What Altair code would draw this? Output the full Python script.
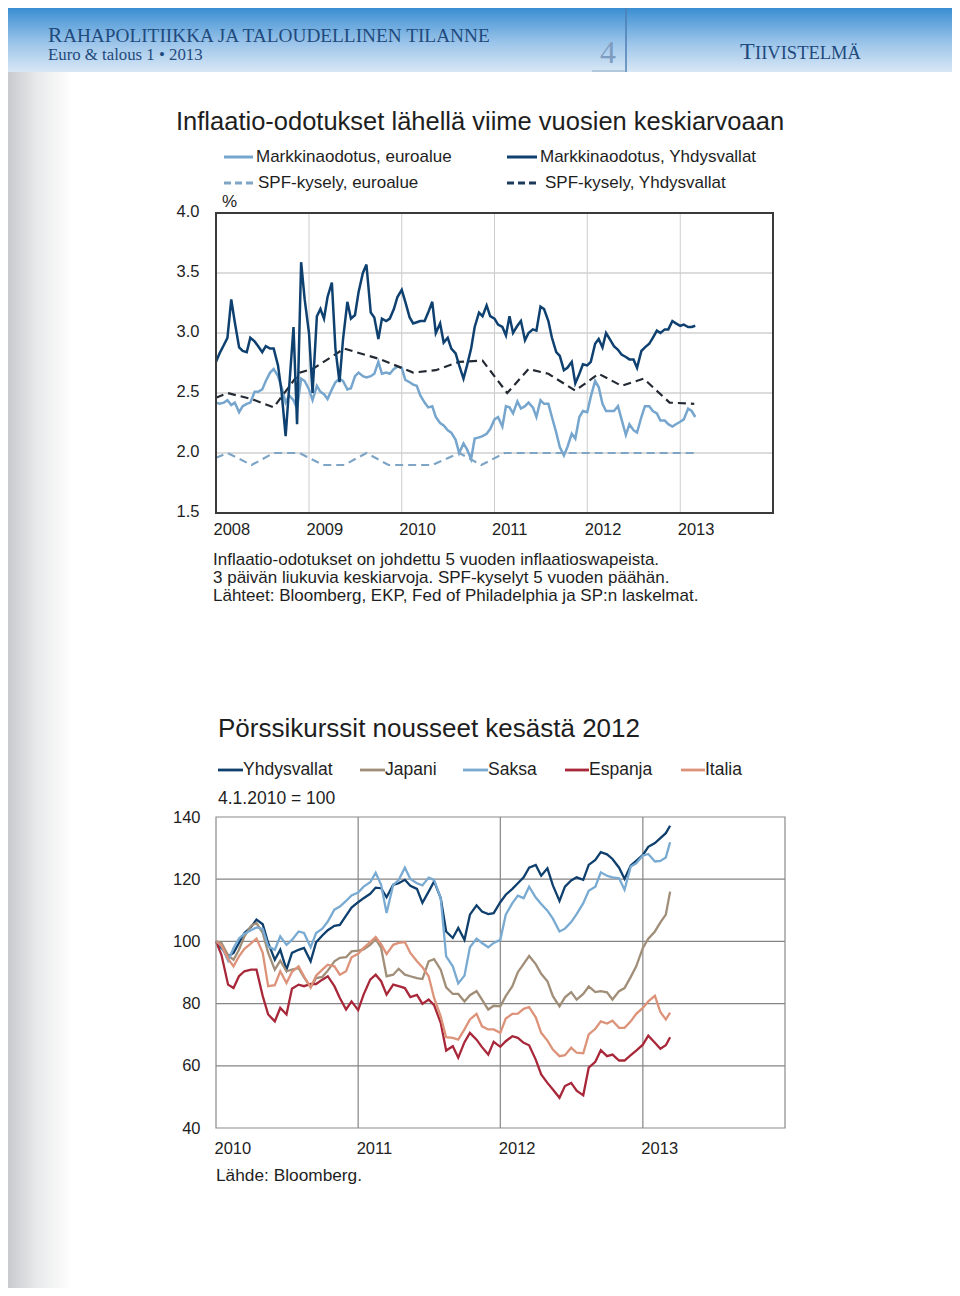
import altair as alt
import pandas as pd

FONT = "Liberation Sans"
SERIF = "Liberation Serif"
TXT = "#1e1e1e"
HEAD = "#1f4a7d"


def semimonthly(y0, m0, y1, m1):
    out = []
    y, m = y0, m0
    while (y, m) <= (y1, m1):
        out.append(f"{y}-{m:02d}-01")
        if (y, m) != (y1, m1):
            out.append(f"{y}-{m:02d}-15")
        m += 1
        if m > 12:
            m = 1
            y += 1
    return out


# ---------------- Chart 1 data: inflation expectations (%) ----------------
dates1 = semimonthly(2008, 1, 2013, 3)

market_us = [
    2.76, 2.83, 2.90, 2.96, 3.28, 3.09, 2.88, 2.85, 2.84, 2.96,
    2.93, 2.89, 2.84, 2.89, 2.87, 2.87, 2.73, 2.51, 2.14, 2.55,
    3.05, 2.24, 3.59, 3.28, 3.00, 2.50, 3.14, 3.20, 3.12, 3.30,
    3.42, 2.87, 2.59, 2.95, 3.26, 3.12, 3.15, 3.34, 3.50, 3.57,
    3.17, 3.13, 2.95, 3.12, 3.10, 3.12, 3.20, 3.30, 3.36, 3.26,
    3.13, 3.08, 3.09, 3.10, 3.10, 3.17, 3.26, 3.00, 3.08, 2.92,
    2.96, 2.87, 2.83, 2.73, 2.62, 2.73, 2.87, 3.05, 3.17, 3.14,
    3.23, 3.14, 3.12, 3.07, 3.05, 2.98, 3.14, 3.00, 3.06, 3.10,
    2.94, 3.00, 3.03, 3.02, 3.22, 3.20, 3.10, 2.96, 2.84, 2.81,
    2.69, 2.71, 2.76, 2.58, 2.66, 2.74, 2.73, 2.76, 2.91, 2.95,
    2.88, 3.00, 2.94, 2.89, 2.86, 2.82, 2.80, 2.78, 2.78, 2.71,
    2.85, 2.88, 2.91, 2.96, 3.02, 3.00, 3.03, 3.03, 3.10, 3.08,
    3.06, 3.07, 3.05, 3.05, 3.06,
]

market_euro = [
    2.42, 2.41, 2.42, 2.44, 2.40, 2.42, 2.34, 2.39, 2.41, 2.42,
    2.51, 2.51, 2.53, 2.60, 2.67, 2.70, 2.64, 2.55, 2.42, 2.48,
    2.44, 2.37, 2.62, 2.60, 2.53, 2.44, 2.56, 2.51, 2.49, 2.45,
    2.53, 2.59, 2.62, 2.60, 2.53, 2.54, 2.64, 2.67, 2.64, 2.63,
    2.64, 2.66, 2.76, 2.66, 2.67, 2.66, 2.70, 2.72, 2.71, 2.61,
    2.59, 2.57, 2.56, 2.48, 2.42, 2.38, 2.39, 2.30, 2.25, 2.23,
    2.19, 2.17, 2.11, 2.00, 2.08, 2.03, 1.95, 2.12, 2.13, 2.14,
    2.16, 2.20, 2.28, 2.30, 2.22, 2.39, 2.38, 2.33, 2.43, 2.37,
    2.39, 2.42, 2.38, 2.30, 2.44, 2.41, 2.41, 2.30, 2.17, 2.05,
    1.98, 2.05, 2.16, 2.12, 2.30, 2.35, 2.34, 2.47, 2.60, 2.55,
    2.41, 2.35, 2.35, 2.35, 2.39, 2.28, 2.15, 2.24, 2.19, 2.17,
    2.30, 2.39, 2.39, 2.35, 2.33, 2.27, 2.27, 2.24, 2.22, 2.24,
    2.26, 2.28, 2.37, 2.35, 2.30,
]

spf_us_dates = ["2008-01-01", "2008-02-15", "2008-05-20", "2008-08-15", "2008-11-25",
                "2009-01-15", "2009-05-20", "2009-10-10", "2010-02-15", "2010-05-15",
                "2010-08-15", "2010-11-15", "2011-02-20", "2011-05-15", "2011-08-01",
                "2011-11-15", "2012-02-15", "2012-05-15", "2012-08-10", "2012-11-20",
                "2013-02-25"]
spf_us = [2.46, 2.50, 2.45, 2.38, 2.67, 2.70, 2.87, 2.78, 2.67, 2.69,
          2.76, 2.77, 2.50, 2.70, 2.66, 2.52, 2.66, 2.56, 2.62, 2.42, 2.41]

spf_eu_dates = ["2008-01-01", "2008-02-15", "2008-05-20", "2008-08-15", "2008-11-25",
                "2009-02-25", "2009-05-20", "2009-08-15", "2009-11-10", "2010-05-01",
                "2010-08-15", "2010-11-10", "2011-02-10", "2013-02-25"]
spf_eu = [1.96, 2.0, 1.9, 2.0, 2.0, 1.9, 1.9, 2.0, 1.9, 1.9, 2.0, 1.9, 2.0, 2.0]

years1 = [2008, 2009, 2010, 2011, 2012, 2013]
yticks1 = [1.5, 2.0, 2.5, 3.0, 3.5, 4.0]

# ---------------- Chart 2 data: stock indices (4.1.2010 = 100) ----------------
dates2 = semimonthly(2010, 1, 2013, 3) + ["2013-03-12"]

idx_us = [
    100.0, 97.9, 95.2, 96.3, 99.5, 102.7, 104.6, 107.0, 105.5, 99.5,
    94.1, 97.3, 90.9, 96.3, 97.3, 97.9, 93.6, 99.7, 101.9, 103.6,
    105.0, 105.3, 108.3, 110.9, 112.6, 113.9, 115.3, 117.3, 117.1, 114.2,
    118.2, 118.7, 119.8, 117.9, 116.9, 112.4, 116.0, 119.3, 113.9, 103.2,
    101.1, 104.3, 100.5, 108.6, 111.6, 109.6, 108.8, 109.1, 112.6, 115.0,
    116.9, 118.7, 120.6, 123.7, 124.6, 121.1, 123.5, 118.0, 113.0, 117.6,
    119.6, 120.6, 119.8, 124.6, 126.2, 128.7, 128.0, 126.5, 123.7, 120.1,
    124.4, 125.9, 127.8, 130.4, 131.6, 133.2, 134.8, 137.2,
]
idx_jp = [
    100.0, 99.5, 95.5, 94.1, 97.3, 101.6, 105.0, 105.9, 102.7, 96.3,
    90.9, 93.8, 90.4, 90.9, 91.4, 88.4, 85.2, 88.2, 88.6, 90.6,
    93.6, 94.7, 94.9, 96.8, 97.0, 97.4, 98.9, 100.7, 97.9, 88.8,
    89.3, 91.2, 89.3, 88.8, 88.2, 87.9, 93.6, 94.3, 90.9, 85.2,
    83.1, 83.1, 80.7, 82.7, 84.0, 81.3, 78.1, 79.3, 79.1, 82.4,
    85.6, 90.1, 92.8, 95.3, 92.7, 89.6, 87.2, 82.4, 79.1, 82.0,
    83.7, 81.3, 83.1, 85.5, 83.7, 84.0, 83.6, 81.3, 84.0, 85.0,
    88.6, 92.0, 97.9, 100.9, 103.2, 106.1, 108.6, 116.0,
]
idx_de = [
    100.0, 98.4, 93.8, 97.9, 100.9, 102.5, 103.6, 104.5, 104.0, 98.4,
    97.3, 101.6, 98.9, 100.5, 103.2, 102.7, 98.1, 102.7, 104.1, 106.4,
    110.2, 111.2, 113.0, 114.8, 115.7, 117.6, 119.0, 122.1, 118.2, 109.1,
    118.2, 119.7, 123.7, 120.1, 118.7, 118.0, 120.5, 119.8, 113.9, 95.2,
    92.0, 86.5, 89.0, 98.1, 100.9, 99.5, 98.1, 99.5, 100.5, 108.6,
    112.3, 114.7, 113.9, 117.6, 114.1, 112.0, 109.9, 107.3, 103.2, 104.1,
    106.2, 108.8, 112.3, 116.3, 117.6, 122.2, 121.1, 120.6, 120.3, 116.6,
    124.1, 125.1, 127.6, 128.1, 125.7, 125.9, 127.0, 131.9,
]
idx_es = [
    100.0, 95.7, 86.1, 85.0, 88.8, 90.4, 90.9, 90.9, 82.4, 76.5,
    74.3, 78.6, 76.5, 84.8, 86.1, 85.6, 86.3, 86.3, 87.7, 88.8,
    85.6, 81.8, 78.1, 80.7, 77.9, 82.9, 87.7, 89.3, 87.2, 82.9,
    86.1, 85.6, 85.0, 82.1, 82.8, 79.9, 81.3, 79.5, 73.8, 64.9,
    66.3, 62.6, 67.6, 70.6, 68.4, 66.0, 63.6, 67.7, 66.1, 67.9,
    69.5, 69.0, 67.4, 66.6, 62.0, 57.2, 54.5, 52.4, 49.7, 53.5,
    54.5, 52.0, 50.5, 59.4, 61.3, 65.0, 63.1, 63.6, 61.7, 61.7,
    63.4, 64.9, 66.8, 69.7, 67.4, 65.5, 66.6, 69.2,
]
idx_it = [
    100.0, 98.7, 94.4, 92.0, 95.2, 97.6, 99.4, 100.9, 96.3, 85.6,
    85.9, 90.4, 86.6, 90.2, 92.0, 88.8, 85.2, 89.0, 90.9, 92.5,
    92.0, 89.3, 90.4, 94.9, 96.0, 97.9, 99.8, 101.4, 99.1, 95.9,
    98.9, 99.5, 99.8, 96.3, 93.6, 91.7, 88.8, 81.8, 75.9, 69.2,
    69.0, 68.4, 71.7, 74.9, 76.7, 72.7, 71.7, 71.7, 70.6, 75.2,
    76.7, 76.8, 78.3, 78.9, 75.6, 70.6, 68.1, 65.2, 63.1, 63.4,
    65.8, 64.2, 64.0, 70.1, 71.9, 74.3, 73.6, 74.5, 72.2, 72.2,
    74.3, 76.7, 78.6, 80.7, 82.5, 77.3, 74.9, 77.1,
]
years2 = [2010, 2011, 2012, 2013]
yticks2 = [40, 60, 80, 100, 120, 140]

series2 = [
    ("Yhdysvallat", idx_us, "#0e3f6d"),
    ("Japani", idx_jp, "#a08e78"),
    ("Saksa", idx_de, "#78aad2"),
    ("Espanja", idx_es, "#a8283a"),
    ("Italia", idx_it, "#dd937a"),
]

W, H = 944, 1280


def dt(y, m=1, d=1):
    return alt.DateTime(year=y, month=m, date=d, utc=True)


def one():
    return pd.DataFrame({"a": [0]})


def label(text, x, y, size=17, color=TXT, font=FONT, baseline="middle", align="left"):
    return alt.Chart(pd.DataFrame({"t": [text]})).mark_text(
        align=align, baseline=baseline, fontSize=size, font=font, color=color
    ).encode(x=alt.value(x), y=alt.value(y), text="t:N")


def swatch(x0, x1, y, color, dash=None, width=3.0):
    kw = {"strokeDash": dash} if dash else {}
    return alt.Chart(one()).mark_rule(color=color, strokeWidth=width, **kw).encode(
        x=alt.value(x0), x2=alt.value(x1), y=alt.value(y))


# ---------------- page decorations ----------------
header = alt.Chart(one()).mark_rect(
    color=alt.Gradient(gradient="linear",
                       stops=[alt.GradientStop(color="#3a8ed2", offset=0),
                              alt.GradientStop(color="#9cc5ea", offset=0.55),
                              alt.GradientStop(color="#d8e7f5", offset=1)],
                       x1=0, x2=0, y1=0, y2=1)
).encode(x=alt.value(0), x2=alt.value(W), y=alt.value(0), y2=alt.value(64))

strip = alt.Chart(one()).mark_rect(
    color=alt.Gradient(gradient="linear",
                       stops=[alt.GradientStop(color="#c8cacd", offset=0),
                              alt.GradientStop(color="#e8e9ea", offset=0.45),
                              alt.GradientStop(color="#ffffff", offset=1)],
                       x1=0, x2=1, y1=0, y2=0)
).encode(x=alt.value(0), x2=alt.value(64), y=alt.value(64), y2=alt.value(H))

sep_v = alt.Chart(one()).mark_rule(color="#4f7fb5", strokeWidth=1.5).encode(
    x=alt.value(618), y=alt.value(0), y2=alt.value(64))
sep_h = alt.Chart(one()).mark_rule(color="#8ea9c8", strokeWidth=1.2).encode(
    x=alt.value(584), x2=alt.value(618), y=alt.value(63))

head_texts = [
    label("R", 40, 34, size=21.5, color=HEAD, font=SERIF, baseline="alphabetic"),
    label("AHAPOLITIIKKA JA TALOUDELLINEN TILANNE", 55, 34, size=19.3, color=HEAD, font=SERIF, baseline="alphabetic"),
    label("Euro & talous 1 • 2013", 40, 52, size=16.8, color=HEAD, font=SERIF, baseline="alphabetic"),
    label("4", 600, 55, size=32, color="#7d9cc0", font=SERIF, baseline="alphabetic", align="center"),
    label("T", 732, 51, size=24, color=HEAD, font=SERIF, baseline="alphabetic"),
    label("IIVISTELMÄ", 747, 51, size=18.5, color=HEAD, font=SERIF, baseline="alphabetic"),
]

# ---------------- Chart 1 ----------------
sx1 = alt.Scale(type="utc", domain=[dt(2008), dt(2014)], range=[208, 765], nice=False)
sy1 = alt.Scale(domain=[1.5, 4.0], range=[505, 205], nice=False, zero=False)
ax1x = alt.Axis(orient="bottom", offset=-775, values=[dt(y) for y in years1], format="%Y",
                labelAlign="left", labelOffset=-3, labelPadding=8, labelFontSize=16.5,
                labelFont=FONT, labelColor=TXT, ticks=False, tickSize=0, domain=False,
                grid=False, labelFlush=False, labelOverlap=False, title=None)
ax1y = alt.Axis(orient="left", offset=-208, values=yticks1, format=".1f", labelPadding=17,
                labelFontSize=16.5, labelFont=FONT, labelColor=TXT, labelOffset=-2,
                ticks=False, tickSize=0, domain=False, grid=False, labelFlush=False,
                labelOverlap=False, title=None)
X1 = alt.X("date:T", scale=sx1, axis=ax1x)
Y1 = alt.Y("value:Q", scale=sy1, axis=ax1y)

g1h = alt.Chart(pd.DataFrame({"value": [2.0, 2.5, 3.0, 3.5], "date": "2008-01-01", "date2": "2014-01-01"})
                ).mark_rule(color="#b8b8b8", strokeWidth=1).encode(x=X1, x2=alt.X2("date2"), y=Y1)
g1v = alt.Chart(pd.DataFrame({"date": [f"{y}-01-01" for y in years1[1:]], "value": 1.5, "value2": 4.0})
                ).mark_rule(color="#cdcdcd", strokeWidth=1).encode(x=X1, y=Y1, y2=alt.Y2("value2"))
frame1 = alt.Chart(pd.DataFrame({"date": ["2008-01-01"], "date2": ["2014-01-01"], "value": [1.5], "value2": [4.0]})
                   ).mark_rect(fillOpacity=0, stroke="#3a3a3a", strokeWidth=2).encode(
    x=X1, x2=alt.X2("date2"), y=Y1, y2=alt.Y2("value2"))

l_euro = alt.Chart(pd.DataFrame({"date": dates1, "value": market_euro})).mark_line(
    color="#76a6cd", strokeWidth=2.5).encode(x=X1, y=Y1)
l_us = alt.Chart(pd.DataFrame({"date": dates1, "value": market_us})).mark_line(
    color="#0f4170", strokeWidth=2.5).encode(x=X1, y=Y1)
l_spf_eu = alt.Chart(pd.DataFrame({"date": spf_eu_dates, "value": spf_eu})).mark_line(
    color="#7ea5c6", strokeWidth=2.2, strokeDash=[8, 5]).encode(x=X1, y=Y1)
l_spf_us = alt.Chart(pd.DataFrame({"date": spf_us_dates, "value": spf_us})).mark_line(
    color="#232a33", strokeWidth=2.2, strokeDash=[8, 5]).encode(x=X1, y=Y1)

chart1 = alt.layer(g1h, g1v, l_euro, l_spf_eu, l_spf_us, l_us, frame1)

texts1 = [
    label("Inflaatio-odotukset lähellä viime vuosien keskiarvoaan", 168, 114, size=25.5),
    swatch(216, 245, 149, "#76a6cd"),
    label("Markkinaodotus, euroalue", 248, 149),
    swatch(499, 529, 149, "#0f4170"),
    label("Markkinaodotus, Yhdysvallat", 532, 149),
    swatch(216, 246, 175, "#7ea5c6", dash=[7, 4]),
    label("SPF-kysely, euroalue", 250, 175),
    swatch(499, 530, 175, "#1d3a5c", dash=[7, 4]),
    label("SPF-kysely, Yhdysvallat", 537, 175),
    label("%", 214, 194),
    label("Inflaatio-odotukset on johdettu 5 vuoden inflaatioswapeista.", 205, 552, size=17),
    label("3 päivän liukuvia keskiarvoja. SPF-kyselyt 5 vuoden päähän.", 205, 570, size=17),
    label("Lähteet: Bloomberg, EKP, Fed of Philadelphia ja SP:n laskelmat.", 205, 588, size=17),
]

# ---------------- Chart 2 ----------------
sx2 = alt.Scale(type="utc", domain=[dt(2010), dt(2014)], range=[208, 777], nice=False)
sy2 = alt.Scale(domain=[40, 140], range=[1120, 809], nice=False, zero=False)
ax2x = alt.Axis(orient="bottom", offset=-160, values=[dt(y) for y in years2], format="%Y",
                labelAlign="left", labelOffset=-2, labelPadding=12, labelFontSize=16.5,
                labelFont=FONT, labelColor=TXT, ticks=False, tickSize=0, domain=False,
                grid=False, labelFlush=False, labelOverlap=False, title=None)
ax2y = alt.Axis(orient="left", offset=-208, values=yticks2, format="d", labelPadding=16,
                labelFontSize=16.5, labelFont=FONT, labelColor=TXT, labelOffset=0,
                ticks=False, tickSize=0, domain=False, grid=False, labelFlush=False,
                labelOverlap=False, title=None)
X2 = alt.X("date:T", scale=sx2, axis=ax2x)
Y2 = alt.Y("value:Q", scale=sy2, axis=ax2y)

g2h = alt.Chart(pd.DataFrame({"value": [60, 80, 100, 120], "date": "2010-01-01", "date2": "2014-01-01"})
                ).mark_rule(color="#858585", strokeWidth=1.2).encode(x=X2, x2=alt.X2("date2"), y=Y2)
g2v = alt.Chart(pd.DataFrame({"date": [f"{y}-01-01" for y in years2[1:]], "value": 40, "value2": 140})
                ).mark_rule(color="#858585", strokeWidth=1.2).encode(x=X2, y=Y2, y2=alt.Y2("value2"))
frame2 = alt.Chart(pd.DataFrame({"date": ["2010-01-01"], "date2": ["2014-01-01"], "value": [40], "value2": [140]})
                   ).mark_rect(fillOpacity=0, stroke="#8a8a8a", strokeWidth=1.2).encode(
    x=X2, x2=alt.X2("date2"), y=Y2, y2=alt.Y2("value2"))

lines2 = [
    alt.Chart(pd.DataFrame({"date": dates2, "value": vals})).mark_line(
        color=col, strokeWidth=2.3).encode(x=X2, y=Y2)
    for _, vals, col in series2
]
chart2 = alt.layer(g2h, g2v, *lines2, frame2)

legend2_pos = [(210, 235), (352, 377), (455, 480), (557, 581), (673, 697)]
texts2 = [label("Pörssikurssit nousseet kesästä 2012", 210, 721, size=26)]
for (name, _, col), (s0, s1) in zip(series2, legend2_pos):
    texts2.append(swatch(s0, s1, 762, col, width=2.8))
    texts2.append(label(name, s1, 762, size=17.5))
texts2 += [
    label("4.1.2010 = 100", 210, 791, size=17.5),
    label("Lähde: Bloomberg.", 208, 1168, size=17.3),
]

page = alt.layer(
    header, strip, sep_v, sep_h, *head_texts,
    chart1, *texts1,
    chart2, *texts2,
).resolve_scale(x="independent", y="independent").resolve_axis(
    x="independent", y="independent"
).properties(
    width=W, height=H, autosize=alt.AutoSizeParams(type="none"), padding=0
).configure_view(strokeWidth=0)

page.save("out.html", embed_options={"renderer": "svg", "actions": False})
